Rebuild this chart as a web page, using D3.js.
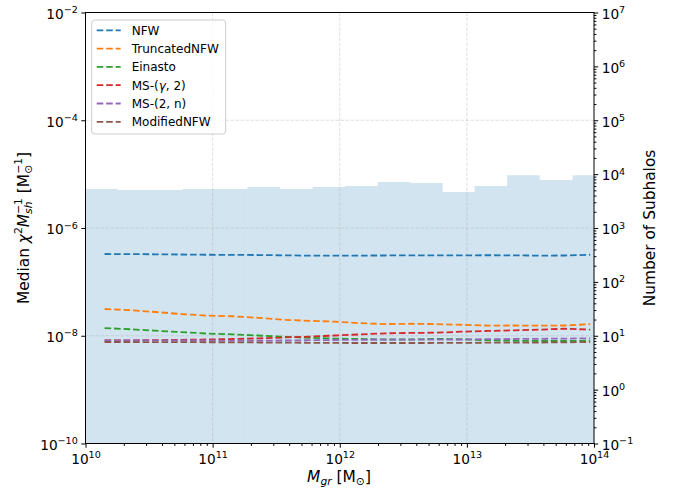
<!DOCTYPE html>
<html lang="en">
<head>
<meta charset="utf-8">
<script src="https://d3js.org/d3.v7.min.js"></script>
<style>
  body { margin: 0; background: #fff; }
  text { font-family: "DejaVu Sans", sans-serif; fill: #000; }
</style>
</head>
<body>
<script>
// group mass grid, log10(M_gr / Msun)
var logMass = [10.15, 10.35, 10.55, 10.75, 10.95, 11.16, 11.36, 11.56, 11.76, 11.96,
               12.16, 12.36, 12.56, 12.76, 12.96, 13.17, 13.37, 13.57, 13.77, 13.97];

// median chi^2 / M_sh for each profile
var nfw          = [3.29e-7, 3.28e-7, 3.25e-7, 3.22e-7, 3.19e-7, 3.17e-7, 3.15e-7, 3.11e-7, 3.07e-7, 3.06e-7,
                    3.08e-7, 3.09e-7, 3.11e-7, 3.11e-7, 3.11e-7, 3.12e-7, 3.11e-7, 3.07e-7, 3.09e-7, 3.19e-7];
var truncatedNFW = [3.14e-8, 2.98e-8, 2.76e-8, 2.53e-8, 2.37e-8, 2.30e-8, 2.15e-8, 1.98e-8, 1.89e-8, 1.83e-8,
                    1.71e-8, 1.65e-8, 1.67e-8, 1.64e-8, 1.60e-8, 1.54e-8, 1.55e-8, 1.54e-8, 1.55e-8, 1.64e-8];
var einasto      = [1.39e-8, 1.32e-8, 1.24e-8, 1.17e-8, 1.10e-8, 1.06e-8, 1.01e-8, 9.56e-9, 9.16e-9, 8.85e-9,
                    8.70e-9, 8.52e-9, 8.52e-9, 8.78e-9, 8.56e-9, 8.27e-9, 8.06e-9, 7.99e-9, 7.99e-9, 8.09e-9];
var msGamma2     = [8.16e-9, 8.23e-9, 8.30e-9, 8.41e-9, 8.52e-9, 8.70e-9, 8.93e-9, 9.28e-9, 9.64e-9, 1.01e-8,
                    1.06e-8, 1.11e-8, 1.13e-8, 1.14e-8, 1.19e-8, 1.23e-8, 1.26e-8, 1.30e-8, 1.35e-8, 1.30e-8];
var ms2n         = [8.23e-9, 8.23e-9, 8.20e-9, 8.16e-9, 8.16e-9, 8.13e-9, 8.13e-9, 8.16e-9, 8.27e-9, 8.34e-9,
                    8.41e-9, 8.45e-9, 8.45e-9, 8.49e-9, 8.52e-9, 8.67e-9, 8.70e-9, 8.78e-9, 8.85e-9, 8.97e-9];
var modifiedNFW  = [7.66e-9, 7.66e-9, 7.62e-9, 7.60e-9, 7.58e-9, 7.55e-9, 7.50e-9, 7.45e-9, 7.40e-9, 7.35e-9,
                    7.33e-9, 7.33e-9, 7.33e-9, 7.35e-9, 7.38e-9, 7.43e-9, 7.45e-9, 7.48e-9, 7.55e-9, 7.62e-9];

var seriesNames = ["NFW", "TruncatedNFW", "Einasto", "MS-(\u03b3, 2)", "MS-(2, n)", "ModifiedNFW"];
var seriesValues = [nfw, truncatedNFW, einasto, msGamma2, ms2n, modifiedNFW];
var colors = ["#1f77b4", "#ff7f0e", "#2ca02c", "#d62728", "#9467bd", "#8c564b"];

// subhalo counts histogram (log10 bin edges)
var binEdges = [10.000, 10.254, 10.513, 10.762, 11.017, 11.274, 11.531, 11.786, 12.043,
                12.298, 12.555, 12.809, 13.061, 13.317, 13.573, 13.831, 14.086];
var counts = [5300, 5075, 5075, 5300, 5300, 5770, 5300, 5770, 6020, 7150, 6840, 4660, 6020, 9550, 7780, 9550];

var xTicks = [1e10, 1e11, 1e12, 1e13, 1e14];
var yTicks = [1e-10, 1e-8, 1e-6, 1e-4, 1e-2];
var y2Ticks = [1e-1, 1e0, 1e1, 1e2, 1e3, 1e4, 1e5, 1e6, 1e7];

var width = 676, height = 490;
var L = 85.5, R = 594, T = 12.5, B = 443.5;
var tickFont = 13.7, labelFont = 15.4;

var x = d3.scaleLog().domain([1e10, 1e14]).range([L, R]);
var y = d3.scaleLog().domain([1e-10, 1e-2]).range([B, T]);
var y2 = d3.scaleLog().domain([1e-1, 1e7]).range([B, T]);

var svg = d3.select("body").append("svg")
  .attr("width", width)
  .attr("height", height);

svg.append("defs").append("clipPath").attr("id", "plot")
  .append("rect").attr("x", L).attr("y", T).attr("width", R - L).attr("height", B - T);

// minor ticks between decades
function minors(lo, hi) {
  var out = [];
  for (var e = lo; e < hi; e++)
    for (var m = 2; m < 10; m++) out.push(m * Math.pow(10, e));
  return out;
}

// histogram (twin axis)
svg.append("g").attr("clip-path", "url(#plot)")
  .selectAll("rect")
  .data(counts)
  .enter()
  .append("rect")
  .attr("x", function(d, i) { return x(Math.pow(10, binEdges[i])); })
  .attr("width", function(d, i) { return x(Math.pow(10, binEdges[i + 1])) - x(Math.pow(10, binEdges[i])); })
  .attr("y", function(d) { return y2(d); })
  .attr("height", function(d) { return B - y2(d); })
  .style("fill", "#1f77b4")
  .style("fill-opacity", 0.2);

// grid
var grid = svg.append("g").attr("stroke", "#b0b0b0").attr("stroke-opacity", 0.5)
  .attr("stroke-width", 0.8).attr("stroke-dasharray", "3.5,1.5");
grid.selectAll(".gx").data(xTicks.slice(1, -1)).enter().append("line")
  .attr("x1", function(d) { return x(d); }).attr("x2", function(d) { return x(d); })
  .attr("y1", T).attr("y2", B);
grid.selectAll(".gy").data(yTicks.slice(1, -1)).enter().append("line")
  .attr("y1", function(d) { return y(d); }).attr("y2", function(d) { return y(d); })
  .attr("x1", L).attr("x2", R);

// median lines
var line = d3.line()
  .x(function(d, i) { return x(Math.pow(10, logMass[i])); })
  .y(function(d) { return y(d); });

svg.append("g").attr("clip-path", "url(#plot)")
  .selectAll("path")
  .data(seriesValues)
  .enter()
  .append("path")
  .attr("d", line)
  .style("fill", "none")
  .style("stroke", function(d, i) { return colors[i]; })
  .style("stroke-width", 1.8)
  .style("stroke-dasharray", "6.6,2.9");

// frame
svg.append("rect").attr("x", L).attr("y", T).attr("width", R - L).attr("height", B - T)
  .style("fill", "none").style("stroke", "#000").style("stroke-width", 1);

// 10^n labels
function powLabel(sel) {
  sel.each(function(d) {
    var t = d3.select(this);
    var e = Math.round(Math.log10(d));
    t.text(null);
    t.append("tspan").text("10");
    t.append("tspan").attr("dy", -0.42 * tickFont).style("font-size", (0.7 * tickFont) + "px")
      .text(e < 0 ? "\u2212" + (-e) : e);
  });
}

function axis(gen, tr) {
  var g = svg.append("g").attr("transform", tr).call(gen);
  g.select(".domain").remove();
  g.selectAll("line").attr("stroke-width", 1);
  return g;
}

function tickText(g, yy) {
  g.selectAll("text").attr("dy", null).attr("y", yy)
    .style("font-size", tickFont + "px").style("font-family", "DejaVu Sans")
    .call(powLabel);
}

var ax = axis(d3.axisBottom(x).tickValues(xTicks).tickSize(4.2).tickPadding(3.5).tickSizeOuter(0), "translate(0," + B + ")");
tickText(ax, 20.5);
axis(d3.axisBottom(x).tickValues(minors(10, 14)).tickSize(2.4).tickFormat("").tickSizeOuter(0), "translate(0," + B + ")");

var ay = axis(d3.axisLeft(y).tickValues(yTicks).tickSize(4.2).tickPadding(3.5).tickSizeOuter(0), "translate(" + L + ",0)");
tickText(ay, 5.8);

var ay2 = axis(d3.axisRight(y2).tickValues(y2Ticks).tickSize(4.2).tickPadding(3.5).tickSizeOuter(0), "translate(" + R + ",0)");
tickText(ay2, 5.8);
axis(d3.axisRight(y2).tickValues(minors(-1, 7)).tickSize(2.4).tickFormat("").tickSizeOuter(0), "translate(" + R + ",0)");

// rich text with sub/superscripts
function rich(g, parts) {
  var t = g.append("text").style("font-size", labelFont + "px");
  var cur = 0;
  parts.forEach(function(p) {
    var shift = p.sup ? -0.42 * labelFont : (p.sub ? 0.22 * labelFont : 0);
    var s = t.append("tspan").text(p.t).attr("dy", shift - cur);
    if (p.dx) s.attr("dx", p.dx);
    if (p.it) s.style("font-style", "italic");
    if (p.sup || p.sub) s.style("font-size", (0.7 * labelFont) + "px");
    cur = shift;
  });
  return t;
}

rich(svg.append("g").attr("transform", "translate(339,482)"), [
  {t: "M", it: true}, {t: "gr", it: true, sub: true}, {t: " [M"}, {t: "\u2299", sub: true}, {t: "]"}
]).attr("text-anchor", "middle");

rich(svg.append("g").attr("transform", "translate(28.5,228) rotate(-90)"), [
  {t: "Median "}, {t: "\u03c7", it: true}, {t: "2", sup: true}, {t: "M", it: true},
  {t: "sh", it: true, sub: true}, {t: "\u22121", sup: true, dx: -12.4},
  {t: " [M"}, {t: "\u2299", sub: true}, {t: "\u22121", sup: true, dx: -9}, {t: "]"}
]).attr("text-anchor", "middle");

svg.append("text")
  .attr("transform", "translate(655,228) rotate(-90)")
  .attr("text-anchor", "middle")
  .style("font-size", labelFont + "px")
  .text("Number of Subhalos");

// legend
var legend = svg.append("g");
legend.append("rect")
  .attr("x", 91.7).attr("y", 20).attr("width", 134).attr("height", 114).attr("rx", 3)
  .style("fill", "#fff").style("fill-opacity", 0.8)
  .style("stroke", "#cccccc").style("stroke-width", 1);

var item = legend.selectAll(".item")
  .data(seriesNames)
  .enter()
  .append("g")
  .attr("transform", function(d, i) { return "translate(0," + (30.3 + i * 18.3) + ")"; });

item.append("line")
  .attr("x1", 96.7).attr("x2", 120.7)
  .style("stroke", function(d, i) { return colors[i]; })
  .style("stroke-width", 1.8)
  .style("stroke-dasharray", "6.6,2.9");

item.append("text")
  .attr("x", 131.7).attr("y", 4.3)
  .style("font-size", "12px")
  .each(function(d) {
    var t = d3.select(this);
    if (d.indexOf("\u03b3") >= 0) {
      t.append("tspan").text("MS-(");
      t.append("tspan").style("font-style", "italic").text("\u03b3");
      t.append("tspan").text(", 2)");
    } else {
      t.text(d);
    }
  });
</script>
</body>
</html>
